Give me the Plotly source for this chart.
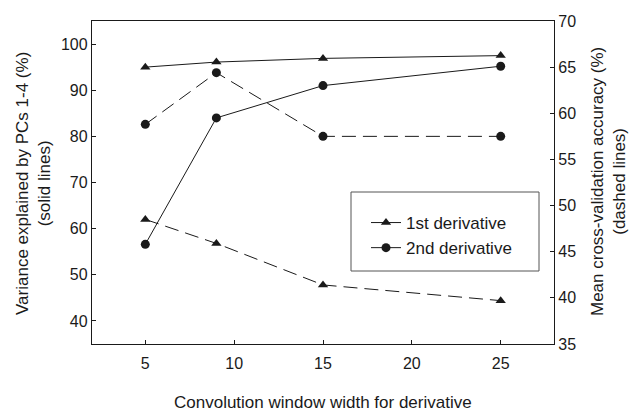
import plotly.graph_objects as go

window = [5, 9, 15, 25]
var_1st = [95.0, 96.1, 96.9, 97.5]
var_2nd = [56.6, 84.0, 91.0, 95.2]
acc_1st = [48.5, 45.9, 41.4, 39.7]
acc_2nd = [58.8, 64.4, 57.5, 57.5]

left_ticks = [40, 50, 60, 70, 80, 90, 100]
right_ticks = [35, 40, 45, 50, 55, 60, 65, 70]
x_ticks = [5, 10, 15, 20, 25]

FONT = "Liberation Sans, Arial, sans-serif"
INK = "#1a1a1a"
DASH = "14px,7px"
TICKSIZE = 16
TITLESIZE = 17

fig = go.Figure()
fig.add_trace(go.Scatter(x=window, y=var_1st, name="1st derivative", mode="lines+markers",
                         line=dict(color=INK, width=1),
                         marker=dict(symbol="triangle-up", size=9, color=INK), yaxis="y"))
fig.add_trace(go.Scatter(x=window, y=var_2nd, name="2nd derivative", mode="lines+markers",
                         line=dict(color=INK, width=1),
                         marker=dict(symbol="circle", size=9, color=INK), yaxis="y"))
fig.add_trace(go.Scatter(x=window, y=acc_1st, showlegend=False, mode="lines+markers",
                         line=dict(color=INK, width=1, dash=DASH),
                         marker=dict(symbol="triangle-up", size=9, color=INK), yaxis="y2"))
fig.add_trace(go.Scatter(x=window, y=acc_2nd, showlegend=False, mode="lines+markers",
                         line=dict(color=INK, width=1, dash=DASH),
                         marker=dict(symbol="circle", size=9, color=INK), yaxis="y2"))

L, R, T, B = 92, 75, 21, 68
W, H = 629, 412
pw, ph = W - L - R, H - T - B

def px_x(p):
    return (p - L) / pw

def px_y(p):
    return (H - B - p) / ph

fig.update_layout(
    width=W, height=H,
    margin=dict(l=L, r=R, t=T, b=B),
    paper_bgcolor="white", plot_bgcolor="white",
    font=dict(family=FONT, size=TICKSIZE, color=INK),
    showlegend=True,
    legend=dict(x=px_x(366), y=px_y(205), xanchor="left", yanchor="top",
                bgcolor="rgba(0,0,0,0)", borderwidth=0,
                font=dict(family=FONT, size=TITLESIZE, color=INK),
                itemwidth=30, tracegroupgap=0),
    xaxis=dict(range=[2, 28], tickvals=x_ticks, ticks="inside", ticklen=4,
               tickcolor=INK, showline=True, linecolor=INK, linewidth=1.3,
               mirror=True, showgrid=False, zeroline=False, ticklabelstandoff=5,
               tickfont=dict(family=FONT, size=TICKSIZE, color=INK)),
    yaxis=dict(range=[35, 105], tickvals=left_ticks, ticks="inside", ticklen=4,
               tickcolor=INK, showline=True, linecolor=INK, linewidth=1.3,
               showgrid=False, zeroline=False,
               tickfont=dict(family=FONT, size=TICKSIZE, color=INK)),
    yaxis2=dict(range=[35, 70], tickvals=right_ticks, ticks="inside", ticklen=4,
                tickcolor=INK, showline=True, linecolor=INK, linewidth=1.3,
                overlaying="y", side="right", showgrid=False, zeroline=False,
                tickfont=dict(family=FONT, size=TICKSIZE, color=INK)),
)

fig.add_shape(type="rect", xref="paper", yref="paper",
              x0=px_x(351), x1=px_x(539), y0=px_y(271), y1=px_y(192),
              line=dict(color="#555555", width=1))

fig.add_annotation(text="Convolution window width for derivative", xref="paper", yref="paper",
                   x=px_x(323), y=px_y(403), showarrow=False, xanchor="center", yanchor="middle",
                   font=dict(family=FONT, size=TITLESIZE, color=INK))
fig.add_annotation(text="Variance explained by PCs 1-4 (%)<br>(solid lines)", xref="paper", yref="paper",
                   x=px_x(33), y=px_y(184), showarrow=False, xanchor="center", yanchor="middle",
                   textangle=-90, font=dict(family=FONT, size=TITLESIZE, color=INK))
fig.add_annotation(text="Mean cross-validation accuracy (%)<br>(dashed lines)", xref="paper", yref="paper",
                   x=px_x(608), y=px_y(182), showarrow=False, xanchor="center", yanchor="middle",
                   textangle=-90, font=dict(family=FONT, size=TITLESIZE, color=INK))

fig.write_html("out.html")
